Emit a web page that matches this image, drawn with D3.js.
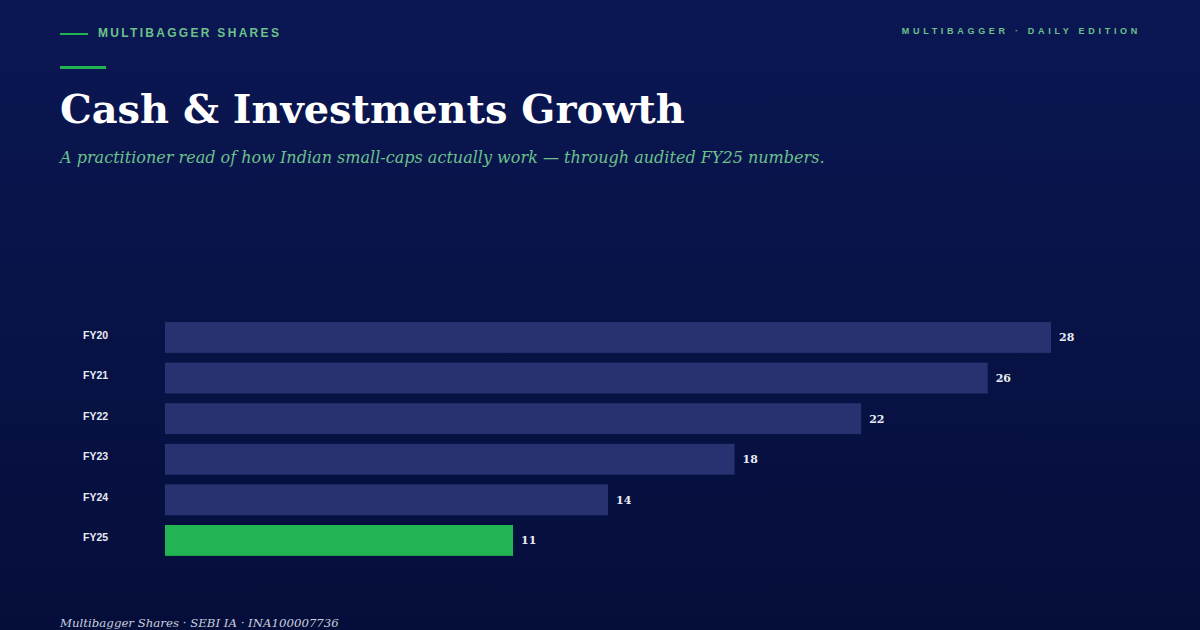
<!DOCTYPE html>
<html>
<head>
<meta charset="utf-8">
<script src="https://cdn.jsdelivr.net/npm/d3@7"></script>
<style>
  html, body { margin: 0; padding: 0; background: #07114a; }
  svg { display: block; }
</style>
</head>
<body>
<div id="chart"></div>
<script>
// Data
const years = ['FY20', 'FY21', 'FY22', 'FY23', 'FY24', 'FY25'];
const values = [28, 26, 22, 18, 14, 11];
const highlightYear = 'FY25';

const width = 1200, height = 630;

const svg = d3.select('#chart')
    .append('svg')
    .attr('width', width)
    .attr('height', height);

// Background gradient
const defs = svg.append('defs');
const grad = defs.append('linearGradient')
    .attr('id', 'bg')
    .attr('x1', 0).attr('y1', 0).attr('x2', 0).attr('y2', 1);
grad.append('stop').attr('offset', '0%').attr('stop-color', '#0b1753');
grad.append('stop').attr('offset', '100%').attr('stop-color', '#050e3a');
svg.append('rect')
    .attr('width', width).attr('height', height)
    .attr('fill', 'url(#bg)');

const green = '#22b452';
const softGreen = '#6cc08c';

// Header
svg.append('line')
    .attr('x1', 60).attr('x2', 88).attr('y1', 34).attr('y2', 34)
    .attr('stroke', green).attr('stroke-width', 2);
svg.append('text')
    .attr('x', 98).attr('y', 37)
    .text('MULTIBAGGER SHARES')
    .style('font-family', '"Liberation Sans", Arial, sans-serif')
    .style('font-weight', 700)
    .style('font-size', '12px')
    .style('letter-spacing', '2.3px')
    .style('fill', softGreen);

svg.append('text')
    .attr('x', 1141).attr('y', 34)
    .attr('text-anchor', 'end')
    .text('MULTIBAGGER · DAILY EDITION')
    .style('font-family', '"Liberation Sans", Arial, sans-serif')
    .style('font-weight', 700)
    .style('font-size', '9px')
    .style('letter-spacing', '3.7px')
    .style('fill', softGreen);

svg.append('line')
    .attr('x1', 60).attr('x2', 106).attr('y1', 67.5).attr('y2', 67.5)
    .attr('stroke', green).attr('stroke-width', 3);

// Title + subtitle
svg.append('text')
    .attr('x', 60).attr('y', 123)
    .text('Cash & Investments Growth')
    .style('font-family', '"DejaVu Serif", Georgia, serif')
    .style('font-weight', 700)
    .style('font-size', '39.9px')
    .style('fill', '#ffffff');

svg.append('text')
    .attr('x', 60).attr('y', 163)
    .text('A practitioner read of how Indian small-caps actually work — through audited FY25 numbers.')
    .style('font-family', '"DejaVu Serif", Georgia, serif')
    .style('font-style', 'italic')
    .style('font-size', '16.05px')
    .style('fill', softGreen);

// Scales
const x = d3.scaleLinear()
    .domain([0, d3.max(values)])
    .range([165, 1051]);

const y = d3.scaleBand()
    .domain(years)
    .range([312.3, 565.6])
    .paddingInner(0.24)
    .paddingOuter(0.24);

const rows = years.map((yr, i) => ({ year: yr, value: values[i] }));

// Category labels via axis
const yAxis = svg.append('g')
    .attr('transform', 'translate(83,0)')
    .call(d3.axisLeft(y).tickSize(0).tickPadding(0));
yAxis.select('.domain').remove();
yAxis.selectAll('text')
    .attr('text-anchor', 'start')
    .attr('dy', '0.1em')
    .style('font-family', '"Liberation Sans", Arial, sans-serif')
    .style('font-weight', 700)
    .style('font-size', '10.5px')
    .style('fill', '#e8ebf5');

// Bars
svg.append('g')
    .selectAll('rect')
    .data(rows)
    .enter()
    .append('rect')
    .attr('x', x(0))
    .attr('y', d => y(d.year))
    .attr('width', d => x(d.value) - x(0))
    .attr('height', y.bandwidth())
    .attr('fill', d => d.year === highlightYear ? green : '#283270');

// Value labels
svg.append('g')
    .selectAll('text')
    .data(rows)
    .enter()
    .append('text')
    .attr('x', d => x(d.value) + 8)
    .attr('y', d => y(d.year) + y.bandwidth() / 2 + 4)
    .text(d => d.value)
    .style('font-family', '"DejaVu Serif", Georgia, serif')
    .style('font-weight', 700)
    .style('font-size', '11px')
    .style('fill', '#e8ebf5');

// Footer
svg.append('text')
    .attr('x', 60).attr('y', 627)
    .text('Multibagger Shares · SEBI IA · INA100007736')
    .style('font-family', '"DejaVu Serif", Georgia, serif')
    .style('font-style', 'italic')
    .style('font-size', '11.75px')
    .style('fill', '#c9cede');
</script>
</body>
</html>
